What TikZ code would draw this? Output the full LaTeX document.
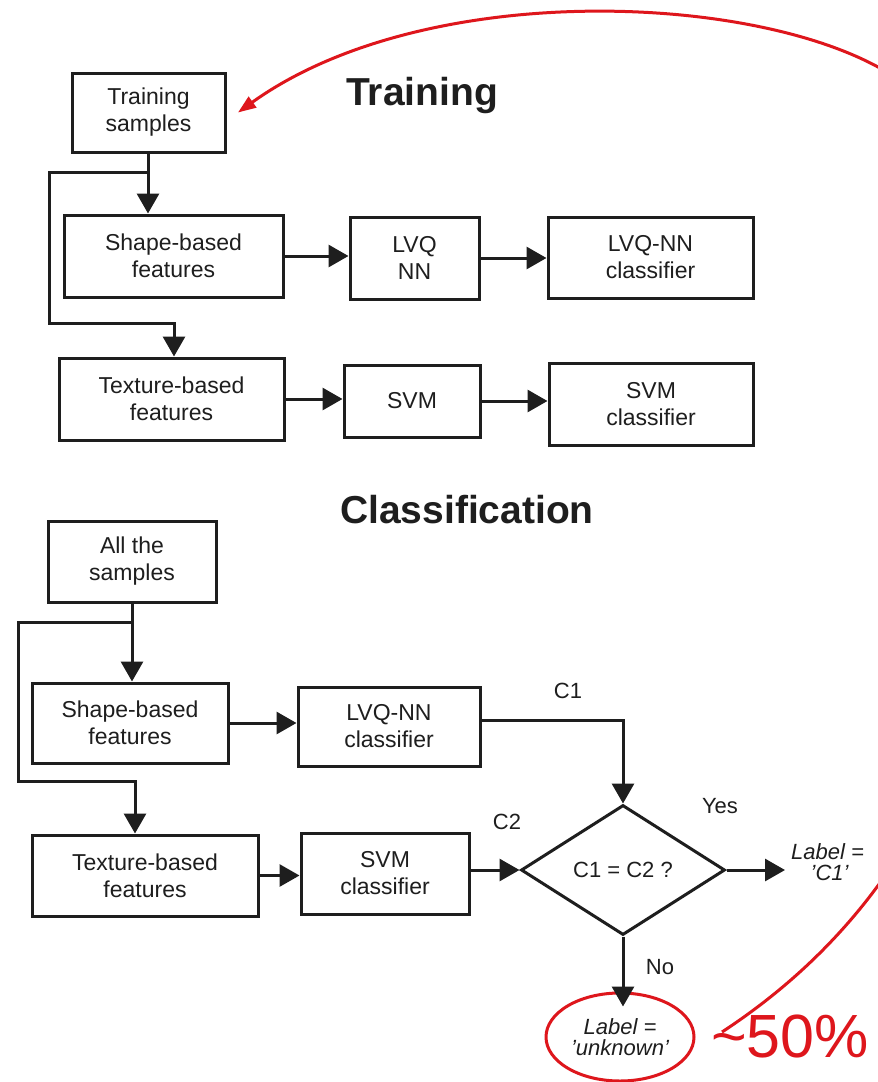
\documentclass[tikz,border=0pt]{standalone}
\usepackage{fontspec}
\setmainfont{Liberation Sans}
\usetikzlibrary{arrows.meta,shapes.geometric}
\definecolor{redline}{RGB}{222,22,28}
\definecolor{ink}{RGB}{30,30,30}
\begin{document}
\begin{tikzpicture}[x=1pt,y=-1pt,
  box/.style={draw=ink, line width=3pt, align=center, inner sep=0pt, text=ink,
    font=\fontsize{23}{27}\selectfont},
  title/.style={font=\bfseries\fontsize{39}{39}\selectfont, text=ink},
  lab/.style={font=\fontsize{22}{26}\selectfont, text=ink, inner sep=0pt},
  ilab/.style={font=\itshape\fontsize{22}{21}\selectfont, text=ink, align=center, inner sep=0pt},
  arr/.style={draw=ink, line width=3pt, -{Triangle[length=20pt,width=22pt]}},
  redarr/.style={draw=redline, line width=3pt, -{Triangle[length=18pt,width=13pt]}}
]
\useasboundingbox (0,0) rectangle (878,1082);
\clip (0,0) rectangle (878,1082);
\fill[white] (0,0) rectangle (878,1082);

% ---------- Training ----------
\node[title] (ttrain) at (422,95) {Training};
\node[box, minimum width=153pt, minimum height=79pt] (ts) at (148.5,112.5) {Training\\samples};
\node[box, minimum width=219pt, minimum height=82pt] (shp1) at (173.5,256) {Shape-based\\features};
\node[box, minimum width=129pt, minimum height=82pt] (lvq) at (414.5,258) {LVQ\\NN};
\node[box, minimum width=205pt, minimum height=81pt] (lvqc) at (650.5,257.5) {LVQ-NN\\classifier};
\node[box, minimum width=225pt, minimum height=82pt] (tex1) at (171.5,399) {Texture-based\\features};
\node[box, minimum width=136pt, minimum height=72pt] (svm) at (412,401) {SVM};
\node[box, minimum width=204pt, minimum height=82pt] (svmc) at (651,404) {SVM\\classifier};

\coordinate (b1) at (148,172);
\coordinate (b1a) at (49,172);
\coordinate (b1b) at (49,323);
\coordinate (b1c) at (174,323);
\draw[arr] (ts.south -| b1) -- (b1 |- shp1.north);
\draw[arr] (b1) -- (b1a) -- (b1b) -- (b1c) -- (b1c |- tex1.north);
\draw[arr] (shp1.east) -- (shp1.east -| lvq.west);
\draw[arr] (lvq.east) -- (lvq.east -| lvqc.west);
\draw[arr] (tex1.east) -- (tex1.east -| svm.west);
\draw[arr] (svm.east) -- (svm.east -| svmc.west);

% ---------- Classification ----------
\node[title] (tclass) at (467,510) {Classification};
\node[box, minimum width=168pt, minimum height=81pt] (all) at (132,561.5) {All the\\samples};
\node[box, minimum width=196pt, minimum height=80pt] (shp2) at (130,723) {Shape-based\\features};
\node[box, minimum width=182pt, minimum height=79pt] (lvqc2) at (389,726.5) {LVQ-NN\\classifier};
\node[box, minimum width=226pt, minimum height=81pt] (tex2) at (145,875.5) {Texture-based\\features};
\node[box, minimum width=168pt, minimum height=81pt] (svmc2) at (385,873.5) {SVM\\classifier};
\node[draw=ink, line width=3pt, diamond, aspect=1.57, minimum width=204pt, minimum height=130pt,
      inner sep=0pt, text=ink, font=\fontsize{22}{26}\selectfont] (dia) at (623,870) {C1 = C2 ?};
\node[ilab, anchor=west] (lbl1) at (791,862) {Label =\\\hspace*{4pt}'C1'};
\node[draw=redline, line width=3pt, ellipse, minimum width=148pt, minimum height=88pt,
      ilab] (unk) at (620,1037) {Label =\\'unknown'};
\node[anchor=base west, inner sep=0pt, text=redline, font=\fontsize{61}{61}\selectfont]
      (pct) at (711,1057) {\textasciitilde 50\%};

\node[lab] (c1) at (568,691) {C1};
\node[lab] (c2) at (507,822) {C2};
\node[lab] (yes) at (720,806) {Yes};
\node[lab] (no) at (660,967) {No};

\coordinate (b2) at (132,622);
\coordinate (b2a) at (18,622);
\coordinate (b2b) at (18,781);
\coordinate (b2c) at (135,781);
\draw[arr] (all.south -| b2) -- (b2 |- shp2.north);
\draw[arr] (b2) -- (b2a) -- (b2b) -- (b2c) -- (b2c |- tex2.north);
\draw[arr] (shp2.east) -- (shp2.east -| lvqc2.west);
\draw[arr] ([yshift=6pt]lvqc2.east) -| (dia.north);
\draw[arr] (tex2.east) -- (tex2.east -| svmc2.west);
\draw[arr] (svmc2.east |- dia.west) -- (dia.west);
\draw[arr] (dia.east) -- ([xshift=-6pt]lbl1.west |- dia.east);
\draw[arr] (dia.south) -- ([yshift=-15pt]unk.north -| dia.south);

% ---------- red feedback curve ----------
\coordinate (rs) at (722,1032);
\draw[redarr] (rs) .. controls (870,935) and (1010,760) .. (1010,420)
   .. controls (1010,220) and (961,116) .. (878,67)
   .. controls (740,-8) and (420,-18) .. (ts.east -| 238,103);
\end{tikzpicture}
\end{document}
